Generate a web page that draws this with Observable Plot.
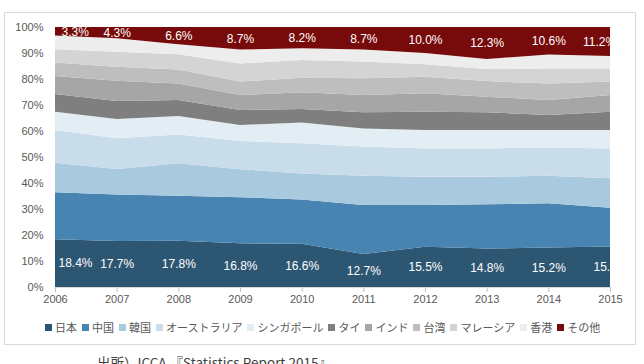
<!DOCTYPE html>
<html>
<head>
<meta charset="utf-8">
<script src="https://cdn.jsdelivr.net/npm/d3@7"></script>
<script src="https://cdn.jsdelivr.net/npm/@observablehq/plot@0.6"></script>
<style>
  body { margin: 0; background: #fff; font-family: "Liberation Sans", Arial, "Noto Sans CJK JP", sans-serif; }
  #box { position: absolute; left: 4px; top: 12px; width: 632px; height: 333px; border: 1px solid #d9d9d9; box-sizing: border-box; }
  #chart { position: absolute; left: 0; top: 0; }
  #legend { position: absolute; left: 45px; top: 319px; display: flex; gap: 5px; font-size: 11px; color: #595959; white-space: nowrap; font-family: "Noto Sans CJK JP", sans-serif; }
  #legend .item { display: inline-flex; align-items: center; }
  #legend .sw { display: inline-block; width: 7px; height: 7px; margin-right: 3px; }
  #caption { position: absolute; left: 97px; top: 354px; font-size: 13.5px; color: #404040; font-family: "Noto Sans CJK JP", sans-serif; white-space: nowrap; line-height: 1.2; }
</style>
</head>
<body>
<div id="box"></div>
<div id="chart"></div>
<div id="legend"></div>
<div id="caption">出所）ICCA 『Statistics Report 2015』</div>
<script>
// Share of international association meetings held in Asia-Pacific, by country (%)
const years = [2006, 2007, 2008, 2009, 2010, 2011, 2012, 2013, 2014, 2015];
const countries = ["日本", "中国", "韓国", "オーストラリア", "シンガポール", "タイ", "インド", "台湾", "マレーシア", "香港", "その他"];
const colors = ["#2d5673", "#4784b2", "#a9c9de", "#c9dcea", "#e2edf4", "#7f7f7f", "#a6a6a6", "#bebebe", "#d4d4d4", "#ededed", "#770a0a"];

const japan     = [18.4, 17.7, 17.8, 16.8, 16.6, 12.7, 15.5, 14.8, 15.2, 15.6];
const china     = [18.0, 17.9, 17.3, 17.7, 17.1, 18.8, 16.0, 17.0, 17.0, 14.9];
const korea     = [11.4, 9.8, 12.5, 10.8, 10.0, 11.3, 10.9, 10.6, 10.6, 11.3];
const australia = [12.6, 11.8, 11.1, 10.9, 11.6, 11.2, 10.9, 10.9, 10.9, 11.5];
const singapore = [7.0, 7.4, 7.1, 6.1, 8.0, 7.0, 7.1, 7.1, 6.7, 7.1];
const thailand  = [6.8, 6.9, 6.1, 5.8, 5.2, 6.2, 7.0, 6.8, 5.8, 7.0];
const india     = [7.0, 7.8, 6.4, 5.7, 6.4, 6.6, 7.1, 6.0, 5.7, 6.4];
const taiwan    = [5.1, 5.4, 5.4, 5.2, 5.6, 6.5, 6.4, 6.0, 6.4, 5.2];
const malaysia  = [5.1, 5.8, 5.8, 7.0, 6.8, 6.4, 4.8, 4.6, 5.7, 5.0];
const hongkong  = [5.3, 5.2, 3.9, 5.3, 4.5, 4.6, 4.3, 3.9, 5.4, 4.8];
const other     = [3.3, 4.3, 6.6, 8.7, 8.2, 8.7, 10.0, 12.3, 10.6, 11.2];

const yTicks = [0, 10, 20, 30, 40, 50, 60, 70, 80, 90, 100];

const series = [japan, china, korea, australia, singapore, thailand, india, taiwan, malaysia, hongkong, other];
const rows = [];
countries.forEach((c, i) => years.forEach((y, j) => rows.push({year: y, country: c, value: series[i][j]})));

const japanRows = years.map((y, j) => ({year: y, value: japan[j]}));
const otherRows = years.map((y, j) => ({year: y, value: other[j]}));
const fmt = d => d.value.toFixed(1) + "%";

const labelFont = {fill: "white", fontSize: 12, fontFamily: "Liberation Sans, Arial, sans-serif", clip: true};
const n = years.length;

const chart = Plot.plot({
  width: 644,
  height: 307,
  marginLeft: 55,
  marginRight: 34,
  marginTop: 27,
  marginBottom: 20,
  style: {fontFamily: "Liberation Sans, Arial, sans-serif", fontSize: "11px", color: "#595959", background: "transparent"},
  x: {domain: [2006, 2015], label: null},
  y: {domain: [0, 100], label: null},
  color: {domain: countries, range: colors},
  marks: [
    Plot.areaY(rows, Plot.stackY({x: "year", y: "value", fill: "country", order: countries})),
    Plot.axisY({ticks: yTicks, tickSize: 0, tickPadding: 12, tickFormat: d => d + "%", fill: "#595959", fontSize: 11, label: null}),
    Plot.axisX({ticks: years, tickFormat: "d", tickSize: 5, tickPadding: 3, stroke: "#bfbfbf", fill: "#595959", fontSize: 11, label: null}),
    Plot.ruleY([0], {stroke: "#d9d9d9"}),
    // value labels for Japan (bottom band)
    Plot.text(japanRows.slice(0, 1), {x: "year", y: d => d.value / 2, text: fmt, textAnchor: "start", dx: 3, ...labelFont}),
    Plot.text(japanRows.slice(1), {x: "year", y: d => d.value / 2, text: fmt, ...labelFont}),
    // value labels for the "other" band (top)
    Plot.text(otherRows.slice(0, 1), {x: "year", y: d => 100 - d.value / 2, text: fmt, textAnchor: "start", dx: 6, ...labelFont}),
    Plot.text(otherRows.slice(1, n - 1), {x: "year", y: d => 100 - d.value / 2, text: fmt, ...labelFont}),
    Plot.text(otherRows.slice(n - 1), {x: "year", y: d => 100 - d.value / 2, text: fmt, dx: -11, ...labelFont})
  ]
});
document.getElementById("chart").append(chart);

// Legend row below the plot
const legend = d3.select("#legend");
countries.forEach((c, i) => {
  const item = legend.append("span").attr("class", "item");
  item.append("span").attr("class", "sw").style("background", colors[i]);
  item.append("span").text(c);
});
</script>
</body>
</html>
